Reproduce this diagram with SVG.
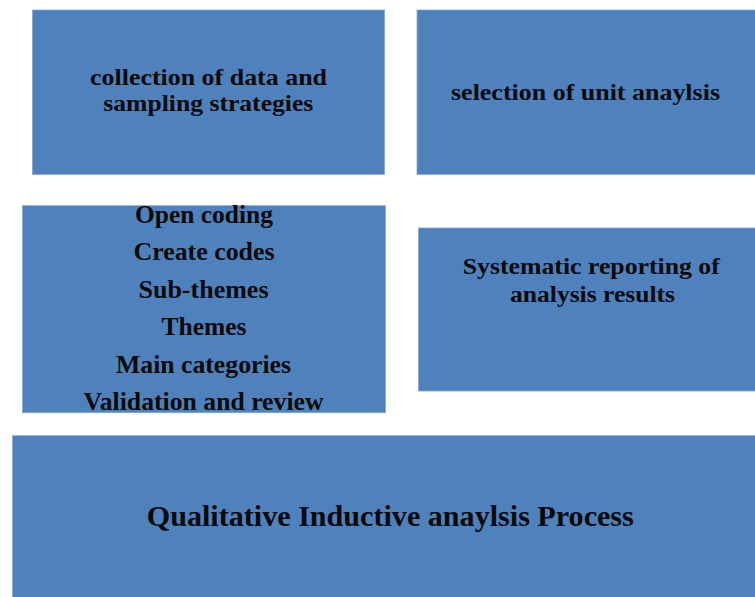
<svg xmlns="http://www.w3.org/2000/svg" width="755" height="597" viewBox="0 0 755 597">
<style>
.box{fill:#4f81bd;stroke:#86a6d2;stroke-width:0.8}
.t{font-family:"Liberation Serif","Times New Roman",serif;font-weight:bold;fill:#0a0a0a;text-anchor:middle}
.s{font-size:24px}
.l{font-size:25px}
.h{font-size:30px}
</style>
<rect x="0" y="0" width="755" height="597" fill="#ffffff"/>
<g id="connectors"></g>
<g id="node-collection">
<rect class="box" x="32.5" y="10" width="352" height="164.5"/>
<text class="t s" x="208.5" y="85" textLength="237" lengthAdjust="spacingAndGlyphs">collection of data and</text>
<text class="t s" x="208.3" y="111" textLength="210" lengthAdjust="spacingAndGlyphs">sampling strategies</text>
</g>
<g id="node-selection">
<rect class="box" x="417" y="10" width="345" height="164.5"/>
<text class="t s" x="585.5" y="99.5" textLength="269" lengthAdjust="spacingAndGlyphs">selection of unit anaylsis</text>
</g>
<g id="node-coding">
<rect class="box" x="22.5" y="205.7" width="363" height="207"/>
<text class="t l" x="204" y="222.5" textLength="138" lengthAdjust="spacingAndGlyphs">Open coding</text>
<text class="t l" x="204" y="260" textLength="141" lengthAdjust="spacingAndGlyphs">Create codes</text>
<text class="t l" x="203.5" y="297.5" textLength="130" lengthAdjust="spacingAndGlyphs">Sub-themes</text>
<text class="t l" x="204" y="335" textLength="85" lengthAdjust="spacingAndGlyphs">Themes</text>
<text class="t l" x="203.5" y="372.5" textLength="175" lengthAdjust="spacingAndGlyphs">Main categories</text>
<text class="t l" x="203.5" y="409.5" textLength="240" lengthAdjust="spacingAndGlyphs">Validation and review</text>
</g>
<g id="node-reporting">
<rect class="box" x="418.5" y="228" width="345" height="163"/>
<text class="t s" x="591.3" y="274" textLength="257" lengthAdjust="spacingAndGlyphs">Systematic reporting of</text>
<text class="t s" x="592.5" y="301.5" textLength="165" lengthAdjust="spacingAndGlyphs">analysis results</text>
</g>
<g id="node-process">
<rect class="box" x="12.5" y="435.7" width="750" height="170"/>
<text class="t h" x="390.3" y="526" textLength="487" lengthAdjust="spacingAndGlyphs">Qualitative Inductive anaylsis Process</text>
</g>
</svg>
